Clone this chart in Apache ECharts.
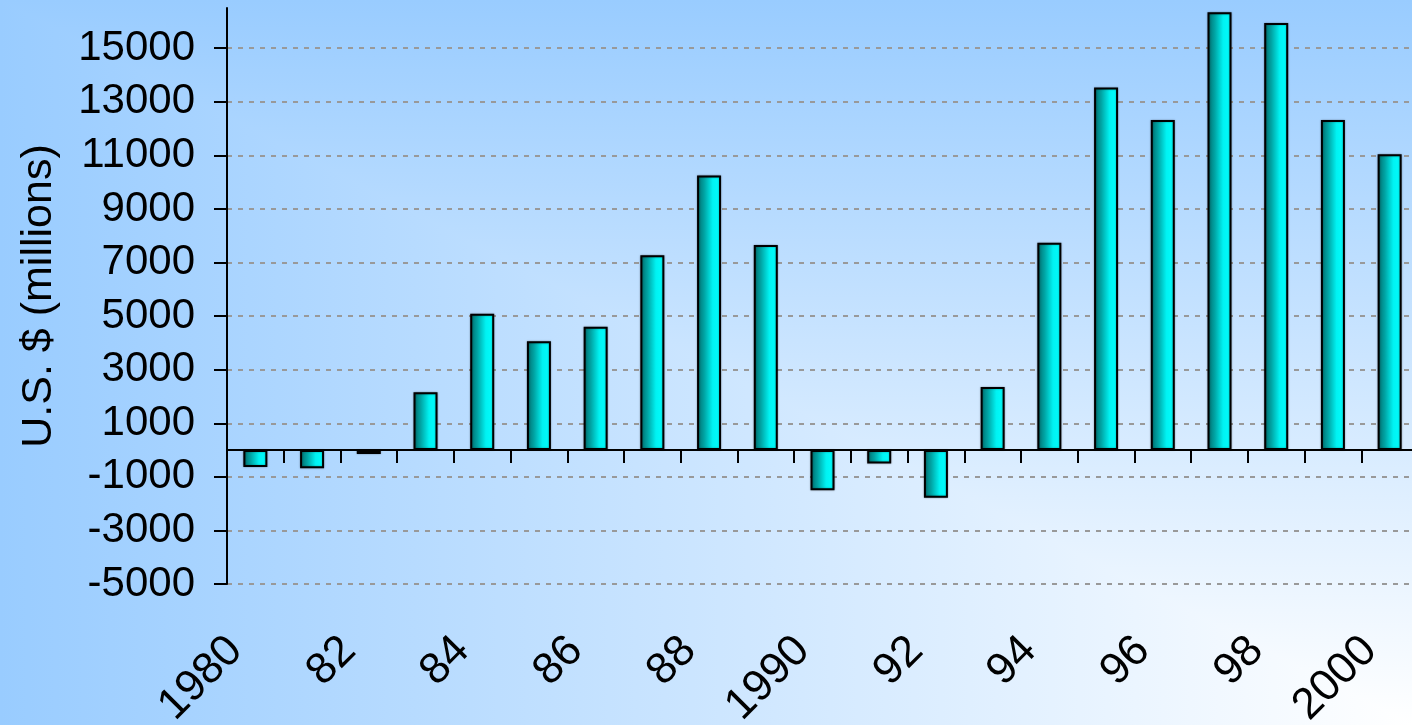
<!DOCTYPE html>
<html>
<head>
<meta charset="utf-8">
<script src="https://cdn.jsdelivr.net/npm/echarts@6/dist/echarts.min.js"></script>
<style>
html,body{margin:0;padding:0;}
#chart{width:1412px;height:725px;
background-image:linear-gradient(to right,#99ccff,#ffffff),linear-gradient(to bottom,#99ccff,#ffffff);
background-blend-mode:darken;}
</style>
</head>
<body>
<div id="chart"></div>
<script>
const years = ['1980','1981','1982','1983','1984','1985','1986','1987','1988','1989','1990','1991','1992','1993','1994','1995','1996','1997','1998','1999','2000'];
const tickLabels = ['1980','','82','','84','','86','','88','','1990','','92','','94','','96','','98','','2000'];
const values = [-630,-680,-150,2160,5090,4060,4600,7270,10250,7650,-1500,-500,-1780,2350,7740,13530,12320,16340,15940,12320,11040];
const yTicks = [-5000,-3000,-1000,1000,3000,5000,7000,9000,11000,13000,15000];
const yTitle = 'U.S. $ (millions)';

const chart = echarts.init(document.getElementById('chart'));
const font = 'Liberation Sans, Arial, sans-serif';
chart.setOption({
  backgroundColor: 'transparent',
  animation: false,
  grid: {left: 227, right: -6, top: 8, bottom: 141, containLabel: false, outerBoundsMode: 'none'},
  xAxis: [{
    type: 'category',
    data: years,
    axisLine: {onZero: true, lineStyle: {color: '#000', width: 2}},
    axisTick: {show: true, inside: false, length: 13, lineStyle: {color: '#000', width: 2}},
    axisLabel: {show: false},
    splitLine: {show: false}
  }, {
    type: 'category',
    data: years,
    position: 'bottom',
    axisLine: {show: false, onZero: false},
    axisTick: {show: false},
    axisLabel: {
      show: true, interval: 0, rotate: 45, margin: 40,
      padding: [0, 28, 0, 0],
      fontSize: 44, fontFamily: font, color: '#000',
      formatter: (v, i) => tickLabels[i]
    }
  }],
  yAxis: {
    type: 'value',
    min: -5000, max: 16500, interval: 2000,
    axisLine: {show: true, lineStyle: {color: '#000', width: 2}},
    axisTick: {show: true, length: 13, lineStyle: {color: '#000', width: 2}, customValues: yTicks},
    axisLabel: {fontSize: 42, fontFamily: font, color: '#000', margin: 32, customValues: yTicks,
      formatter: v => String(v)},
    splitLine: {show: true, showMinLine: true, lineStyle: {color: '#999999', width: 2, type: [5, 6]}},
    name: yTitle,
    nameLocation: 'middle',
    nameGap: 166,
    nameTextStyle: {fontSize: 43, fontFamily: font, color: '#000'}
  },
  series: [{
    type: 'bar',
    data: values,
    barWidth: 24,
    itemStyle: {
      color: new echarts.graphic.LinearGradient(0, 0, 1, 0, [
        {offset: 0, color: '#006c6c'},
        {offset: 0.3, color: '#00a4a4'},
        {offset: 0.65, color: '#00f2f2'},
        {offset: 1, color: '#00ffff'}
      ]),
      borderColor: '#000',
      borderWidth: 2,
      shadowColor: 'rgba(0,0,0,0.35)',
      shadowBlur: 2
    }
  }]
});
</script>
</body>
</html>
